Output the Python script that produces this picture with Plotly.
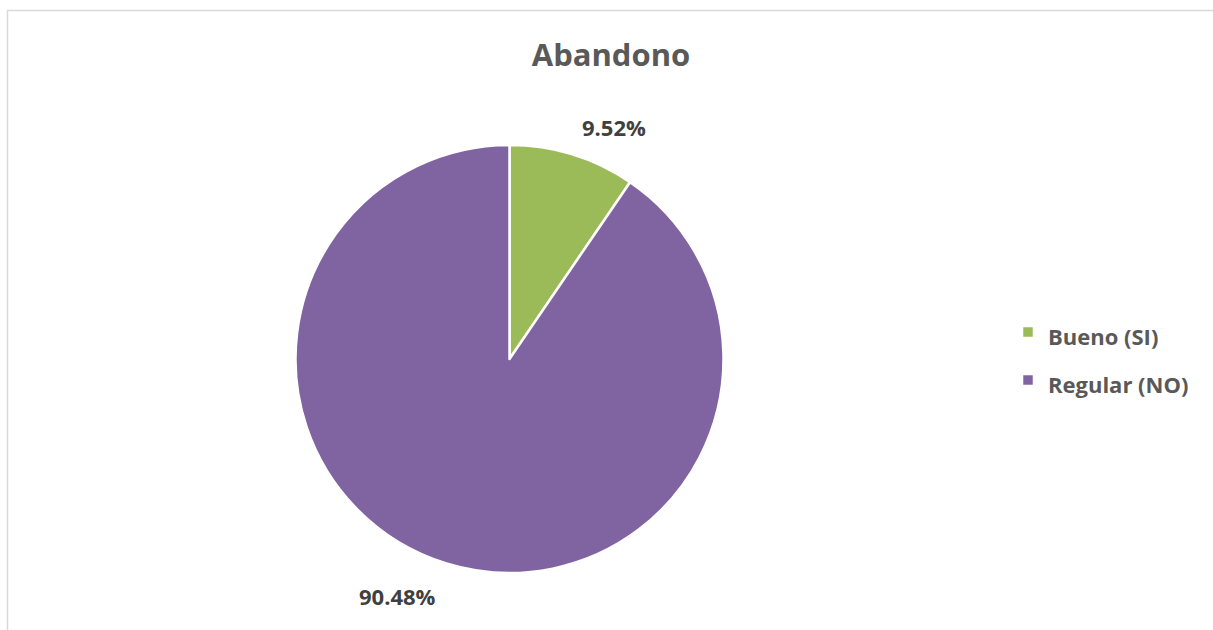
import plotly.graph_objects as go

# Data
categories = ["Bueno (SI)", "Regular (NO)"]
counts = [2, 19]
colors = ["#9BBB59", "#8064A2"]
title_text = "Abandono"

total = sum(counts)
pct_labels = [f"{c / total:.2%}" for c in counts]

W, H = 1213, 630

fig = go.Figure()
fig.add_trace(go.Pie(
    labels=[f"<span style='font-size:22px'><b>{c}</b></span>" for c in categories],
    values=counts,
    sort=False,
    direction="clockwise",
    rotation=0,
    textinfo="none",
    hovertext=categories,
    hoverinfo="text+percent",
    marker=dict(colors=colors, line=dict(color="white", width=2.5)),
    domain=dict(x=[295.5 / W, 723.5 / W], y=[1 - 573 / H, 1 - 145 / H]),
))

# percentage labels (text computed from data)
label_pos = [(614, 127), (397, 596)]
for txt, (px, py) in zip(pct_labels, label_pos):
    fig.add_annotation(
        text=f"<b>{txt}</b>", x=px / W, y=1 - py / H, xref="paper", yref="paper",
        xanchor="center", yanchor="middle", showarrow=False,
        font=dict(family="Open Sans", size=22, color="#404040"),
    )

# chart area border
fig.add_shape(type="rect", xref="paper", yref="paper",
              x0=7.5 / W, x1=1.02, y0=-0.05, y1=1 - 10.5 / H,
              line=dict(color="#D9D9D9", width=1.5), fillcolor="rgba(0,0,0,0)")

fig.update_layout(
    width=W, height=H,
    margin=dict(l=0, r=0, t=0, b=0),
    paper_bgcolor="white",
    plot_bgcolor="white",
    title=dict(text=f"<b>{title_text}</b>", x=611 / W, xanchor="center",
               y=1 - 55 / H, yanchor="middle",
               font=dict(family="Open Sans", size=31, color="#595959")),
    legend=dict(x=1008 / W, xanchor="left", y=1 - 356 / H, yanchor="middle",
                font=dict(family="Open Sans", size=34.6, color="#595959"),
                bgcolor="rgba(0,0,0,0)"),
    showlegend=True,
)

fig.write_html("out.html", config={"displayModeBar": False},
               post_script="document.body.style.margin='0px';")
